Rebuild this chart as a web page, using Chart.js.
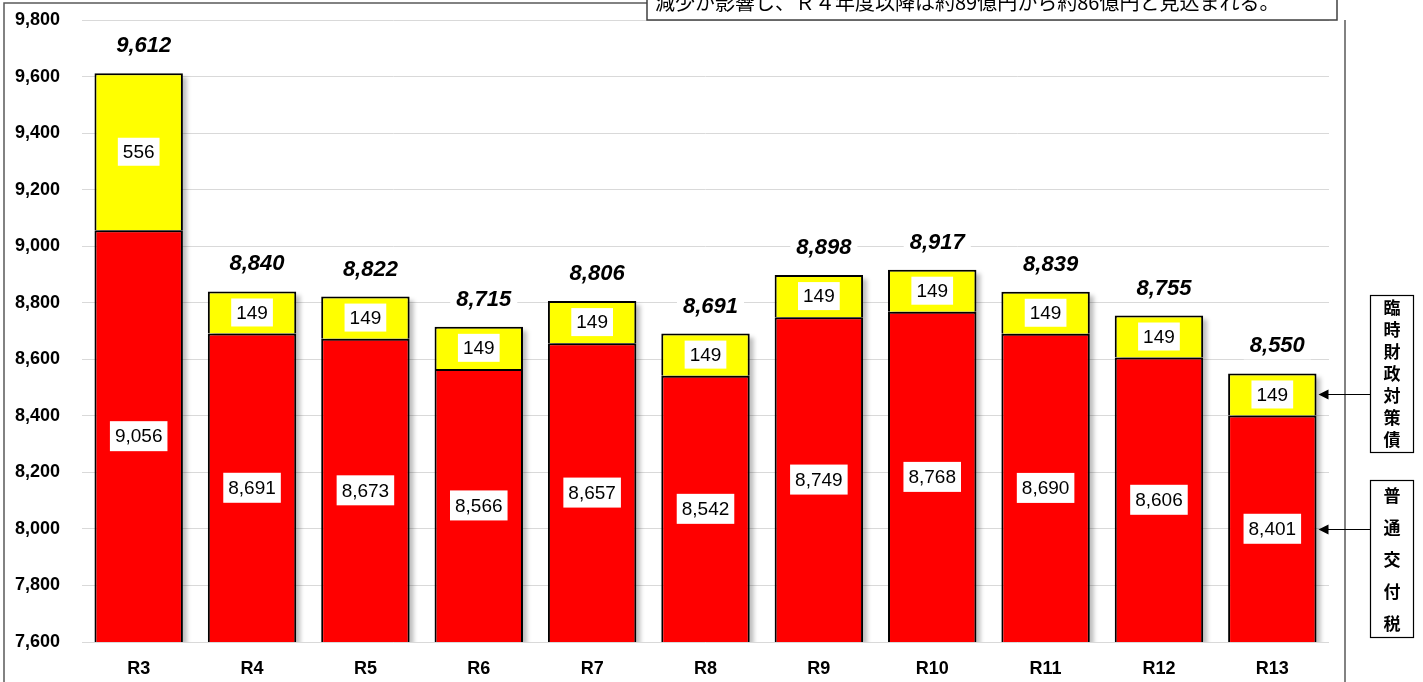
<!DOCTYPE html>
<html>
<head>
<meta charset="utf-8">
<script src="https://cdn.jsdelivr.net/npm/chart.js"></script>
<style>
  body { margin: 0; background: #fff; }
  canvas { display: block; }
</style>
</head>
<body>
<canvas id="kofuChart" width="1423" height="682"></canvas>
<script>
// 年度
var years = ['R3', 'R4', 'R5', 'R6', 'R7', 'R8', 'R9', 'R10', 'R11', 'R12', 'R13']
// 普通交付税
var futsuKofuzei = [9056, 8691, 8673, 8566, 8657, 8542, 8749, 8768, 8690, 8606, 8401]
// 臨時財政対策債
var rinzaisai = [556, 149, 149, 149, 149, 149, 149, 149, 149, 149, 149]
// 合計
var totals = [9612, 8840, 8822, 8715, 8806, 8691, 8898, 8917, 8839, 8755, 8550]

var yMin = 7600
var yMax = 9800
var yStep = 200

var noteText = '減少が影響し、Ｒ４年度以降は約89億円から約86億円と見込まれる。'
var legendTop = '臨時財政対策債'
var legendBottom = '普通交付税'

var numFont = '"Liberation Sans", Arial, sans-serif'
var jpFont = '"Noto Sans CJK JP", sans-serif'

function fmt(v) {
  return v.toLocaleString('en-US')
}

// shadows behind the bars
var shadowPlugin = {
  id: 'barShadow',
  beforeDatasetsDraw: function (chart) {
    var ctx = chart.ctx
    var area = chart.chartArea
    var top = chart.getDatasetMeta(1).data
    ctx.save()
    ctx.beginPath()
    ctx.rect(area.left, area.top, area.right - area.left + 10, area.bottom - area.top)
    ctx.clip()
    ctx.fillStyle = 'rgba(0,0,0,0.25)'
    ctx.filter = 'blur(2px)'
    top.forEach(function (bar) {
      ctx.fillRect(bar.x - bar.width / 2 + 4, bar.y + 4, bar.width, area.bottom - bar.y)
    })
    ctx.restore()
  }
}

var labelPlugin = {
  id: 'valueLabels',
  afterDatasetsDraw: function (chart) {
    var ctx = chart.ctx
    var area = chart.chartArea
    var red = chart.getDatasetMeta(0).data
    var yel = chart.getDatasetMeta(1).data

    ctx.save()
    ctx.textAlign = 'center'
    ctx.textBaseline = 'middle'

    function box(text, x, y, font, h) {
      ctx.font = font
      var w = ctx.measureText(text).width + 10
      ctx.fillStyle = '#fff'
      ctx.fillRect(x - w / 2, y - h / 2, w, h)
      ctx.fillStyle = '#000'
      ctx.fillText(text, x, y + 1)
    }

    for (var i = 0; i < years.length; i++) {
      var r = red[i]
      var yb = Math.min(r.base, area.bottom)
      box(fmt(futsuKofuzei[i]), r.x, (r.y + yb) / 2, '19px ' + numFont, 30)
      var t = yel[i]
      box(fmt(rinzaisai[i]), t.x, (t.y + t.base) / 2, '19px ' + numFont, 28)
      // total
      ctx.font = 'italic bold 22px ' + numFont
      var tw = ctx.measureText(fmt(totals[i])).width + 12
      ctx.fillStyle = '#fff'
      ctx.fillRect(t.x + 5 - tw / 2, t.y - 42, tw, 28)
      ctx.fillStyle = '#000'
      ctx.fillText(fmt(totals[i]), t.x + 5, t.y - 27)
    }
    ctx.restore()
  },
  afterDraw: function (chart) {
    var ctx = chart.ctx
    var area = chart.chartArea
    var H = chart.height
    ctx.save()

    // outer frame
    ctx.strokeStyle = '#595959'
    ctx.lineWidth = 1.5
    ctx.beginPath()
    ctx.moveTo(4, H)
    ctx.lineTo(4, 3)
    ctx.lineTo(647, 3)
    ctx.moveTo(1345, 20)
    ctx.lineTo(1345, H)
    ctx.stroke()

    // note box at the top (cut off)
    ctx.fillStyle = '#fff'
    ctx.fillRect(647, -10, 690, 30)
    ctx.strokeStyle = '#404040'
    ctx.lineWidth = 1.5
    ctx.strokeRect(647, -10, 690, 30)
    ctx.fillStyle = '#000'
    ctx.font = '20px ' + jpFont
    ctx.textAlign = 'left'
    ctx.textBaseline = 'alphabetic'
    ctx.fillText(noteText, 655, 10)

    // legend boxes
    var last = chart.getDatasetMeta(1).data.length - 1
    var yb = chart.getDatasetMeta(1).data[last]
    var rb = chart.getDatasetMeta(0).data[last]
    var barRight = yb.x + yb.width / 2

    ctx.strokeStyle = '#000'
    ctx.lineWidth = 1.2
    ctx.strokeRect(1370.5, 295.5, 43, 157)
    ctx.strokeRect(1370.5, 480.5, 43, 157)

    ctx.font = 'bold 17px ' + jpFont
    ctx.textAlign = 'center'
    ctx.textBaseline = 'middle'
    for (var i = 0; i < legendTop.length; i++) {
      ctx.fillText(legendTop[i], 1392, 308 + i * 22)
    }
    for (var j = 0; j < legendBottom.length; j++) {
      ctx.fillText(legendBottom[j], 1392, 496 + j * 32)
    }

    // arrows
    function arrow(y) {
      ctx.strokeStyle = '#000'
      ctx.lineWidth = 1
      ctx.beginPath()
      ctx.moveTo(1370, y)
      ctx.lineTo(barRight + 6, y)
      ctx.stroke()
      ctx.beginPath()
      ctx.moveTo(barRight + 2, y)
      ctx.lineTo(barRight + 12, y - 5)
      ctx.lineTo(barRight + 12, y + 5)
      ctx.closePath()
      ctx.fill()
    }
    arrow(Math.round((yb.y + yb.base) / 2) + 0.5)
    arrow(Math.round((rb.y + Math.min(rb.base, area.bottom)) / 2) + 0.5)

    ctx.restore()
  }
}

var chart = new Chart(document.getElementById('kofuChart'), {
  type: 'bar',
  data: {
    labels: years,
    datasets: [
      {
        label: legendBottom,
        data: futsuKofuzei,
        backgroundColor: '#ff0000',
        borderColor: '#000',
        borderWidth: 2,
        borderSkipped: false,
        barPercentage: 0.78,
        categoryPercentage: 1
      },
      {
        label: legendTop,
        data: rinzaisai,
        backgroundColor: '#ffff00',
        borderColor: '#000',
        borderWidth: 2,
        borderSkipped: 'start',
        barPercentage: 0.78,
        categoryPercentage: 1
      }
    ]
  },
  options: {
    responsive: false,
    animation: false,
    layout: { padding: { top: 20, right: 94, left: 0, bottom: 0 } },
    plugins: {
      legend: { display: false },
      tooltip: { enabled: false }
    },
    scales: {
      x: {
        stacked: true,
        grid: { display: false },
        border: { display: false },
        ticks: {
          color: '#000',
          padding: 8,
          font: { family: numFont, size: 18, weight: 'bold' }
        },
        afterFit: function (s) { s.height = 40 }
      },
      y: {
        stacked: true,
        min: yMin,
        max: yMax,
        grid: { color: '#d9d9d9', lineWidth: 1, drawTicks: false },
        border: { display: false },
        ticks: {
          stepSize: yStep,
          color: '#000',
          padding: 22,
          font: { family: numFont, size: 18, weight: 'bold' },
          callback: function (v) { return fmt(v) }
        },
        afterFit: function (s) {
          s.width = 82
          s.paddingTop = 0
          s.paddingBottom = 0
        }
      }
    }
  },
  plugins: [shadowPlugin, labelPlugin]
})
</script>
</body>
</html>
